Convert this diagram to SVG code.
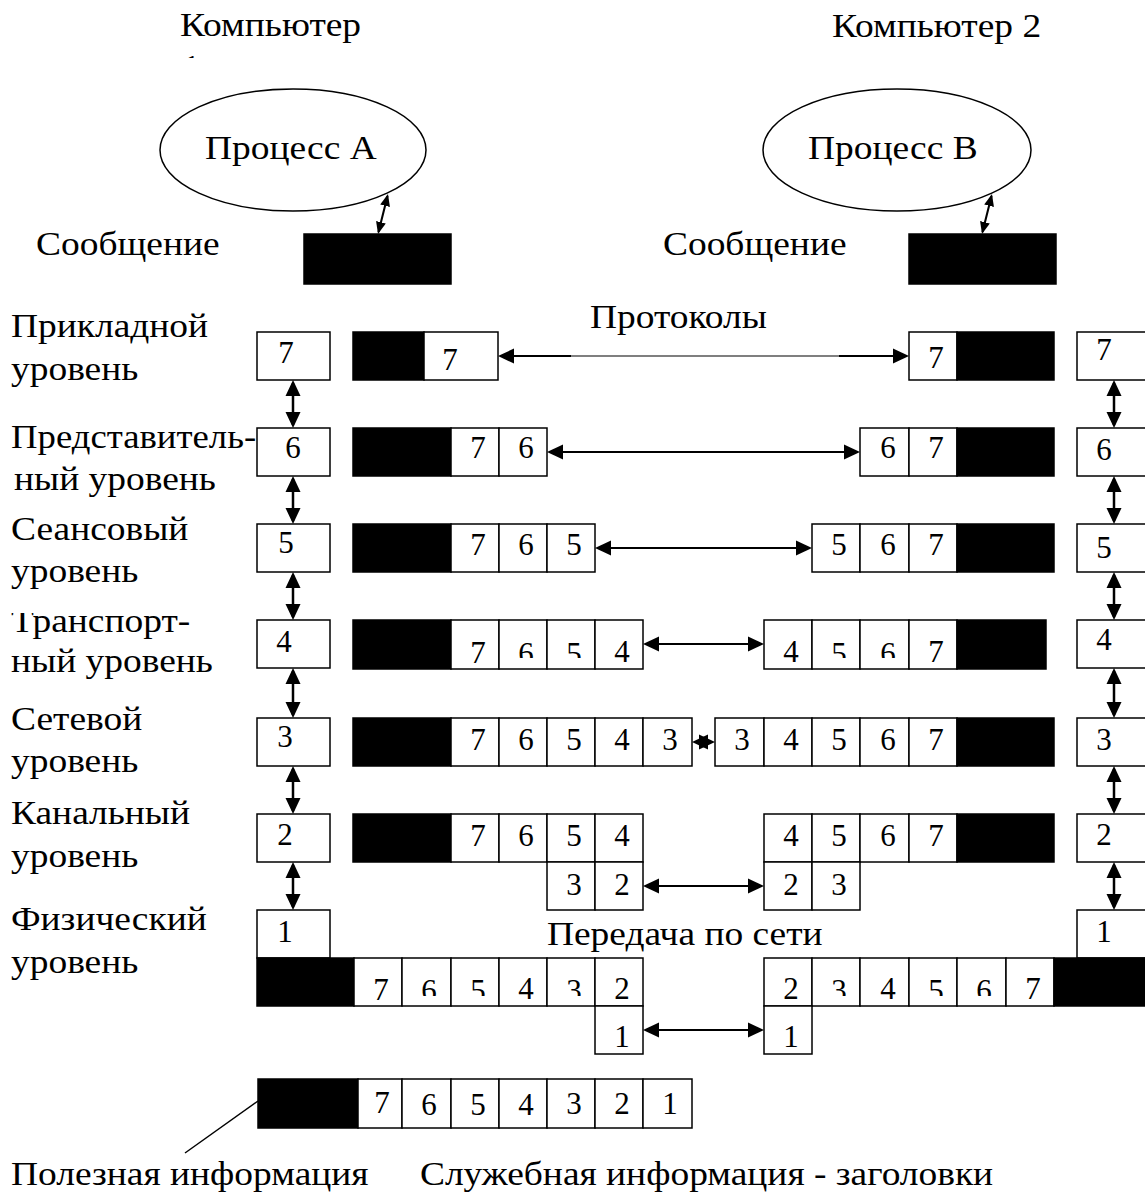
<svg xmlns="http://www.w3.org/2000/svg" width="1145" height="1192" viewBox="0 0 1145 1192">
  <style>
    .bx { fill: #fff; stroke: #000; stroke-width: 1.5; }
    .blk { fill: #000; stroke: #000; stroke-width: 1.5; }
    .ell { fill: #fff; stroke: #000; stroke-width: 1.5; }
    .d { font-family: "Liberation Serif", "Times New Roman", serif; font-size: 31px; text-anchor: middle; fill: #000; }
    .lb { font-family: "Liberation Serif", "Times New Roman", serif; font-size: 33px; fill: #000; }
    .va { stroke: #000; stroke-width: 2.5; fill: none; marker-start: url(#ah); marker-end: url(#ah); }
    .ha { stroke: #000; stroke-width: 2; fill: none; marker-start: url(#ah); marker-end: url(#ah); }
    .sa { stroke: #000; stroke-width: 2; fill: none; marker-start: url(#ahs); marker-end: url(#ahs); }
    .thin { stroke: #000; stroke-width: 1.2; fill: none; }
    .thick { stroke: #000; stroke-width: 2.2; fill: none; }
    .lead { stroke: #000; stroke-width: 1.5; fill: none; }
  </style>
  <defs>
    <marker id="ah" markerUnits="userSpaceOnUse" markerWidth="16" markerHeight="16" viewBox="0 0 16 16" refX="13" refY="8" orient="auto-start-reverse">
      <path d="M0,0.5 L16,8 L0,15.5 Z" fill="#000"/>
    </marker>
    <marker id="ahs" markerUnits="userSpaceOnUse" markerWidth="12" markerHeight="10" viewBox="0 0 12 10" refX="10" refY="5" orient="auto-start-reverse">
      <path d="M0,0 L12,5 L0,10 Z" fill="#000"/>
    </marker>
    <clipPath id="cut4" clipPathUnits="userSpaceOnUse"><rect x="0" y="0" width="1145" height="658"/></clipPath>
    <clipPath id="cut1" clipPathUnits="userSpaceOnUse"><rect x="0" y="0" width="1145" height="996"/></clipPath>
    <clipPath id="cutT" clipPathUnits="userSpaceOnUse"><rect x="0" y="613" width="2000" height="100"/></clipPath>
    <clipPath id="cutTop" clipPathUnits="userSpaceOnUse"><rect x="0" y="0" width="2000" height="58"/></clipPath>
  </defs>

  <!-- headings, process names and free labels (glyphs widened slightly) -->
  <g id="captions" class="lb" transform="scale(1.135 1)">
    <text x="158.6" y="36">Компьютер</text>
    <text x="160.4" y="78" clip-path="url(#cutTop)">1</text>
    <text x="733" y="37">Компьютер 2</text>
    <text x="31.7" y="255">Сообщение</text>
    <text x="584.1" y="255">Сообщение</text>
    <text x="519.8" y="328">Протоколы</text>
    <text x="481.9" y="945">Передача по сети</text>
    <text x="9.7" y="1185">Полезная информация</text>
    <text x="370" y="1185">Служебная информация - заголовки</text>
  </g>

  <!-- layer names -->
  <g id="layer-labels" class="lb" transform="scale(1.135 1)">
    <text x="9.7" y="337">Прикладной</text>
    <text x="9.7" y="380">уровень</text>
    <text x="9.7" y="448" textLength="216" lengthAdjust="spacingAndGlyphs">Представитель-</text>
    <text x="12.3" y="490">ный уровень</text>
    <text x="9.7" y="540">Сеансовый</text>
    <text x="9.7" y="582">уровень</text>
    <text x="9.7" y="632" clip-path="url(#cutT)">Транспорт-</text>
    <text x="9.7" y="672">ный уровень</text>
    <text x="9.7" y="730">Сетевой</text>
    <text x="9.7" y="772">уровень</text>
    <text x="9.7" y="824">Канальный</text>
    <text x="9.7" y="867">уровень</text>
    <text x="9.7" y="930">Физический</text>
    <text x="9.7" y="973">уровень</text>
  </g>

  <!-- processes -->
  <g id="process-a">
    <ellipse class="ell" cx="293" cy="150" rx="133" ry="61"/>
    <text class="lb" transform="scale(1.135 1)" x="180.6" y="159">Процесс A</text>
  </g>
  <g id="process-b">
    <ellipse class="ell" cx="897" cy="150" rx="134" ry="61"/>
    <text class="lb" transform="scale(1.135 1)" x="711.9" y="159">Процесс B</text>
  </g>

  <!-- application messages -->
  <g id="message-a"><rect class="blk" x="304" y="234" width="147" height="50"/></g>
  <g id="message-b"><rect class="blk" x="909" y="234" width="147" height="50"/></g>

  <!-- layer boxes, computer 1 -->
  <g id="stack-a">
    <rect class="bx" x="257" y="332" width="73" height="48"/><text class="d" x="286" y="363">7</text>
    <rect class="bx" x="257" y="428" width="73" height="48"/><text class="d" x="293" y="458">6</text>
    <rect class="bx" x="257" y="524" width="73" height="48"/><text class="d" x="286" y="553">5</text>
    <rect class="bx" x="257" y="620" width="73" height="48"/><text class="d" x="284" y="652">4</text>
    <rect class="bx" x="257" y="718" width="73" height="48"/><text class="d" x="285" y="747">3</text>
    <rect class="bx" x="257" y="814" width="73" height="48"/><text class="d" x="285" y="845">2</text>
    <rect class="bx" x="257" y="910" width="73" height="48"/><text class="d" x="285" y="942">1</text>
  </g>

  <!-- layer boxes, computer 2 -->
  <g id="stack-b">
    <rect class="bx" x="1077" y="332" width="75" height="48"/><text class="d" x="1104" y="360">7</text>
    <rect class="bx" x="1077" y="428" width="75" height="48"/><text class="d" x="1104" y="460">6</text>
    <rect class="bx" x="1077" y="524" width="75" height="48"/><text class="d" x="1104" y="558">5</text>
    <rect class="bx" x="1077" y="620" width="75" height="48"/><text class="d" x="1104" y="650">4</text>
    <rect class="bx" x="1077" y="718" width="75" height="48"/><text class="d" x="1104" y="750">3</text>
    <rect class="bx" x="1077" y="814" width="75" height="48"/><text class="d" x="1104" y="845">2</text>
    <rect class="bx" x="1077" y="910" width="75" height="48"/><text class="d" x="1104" y="942">1</text>
  </g>

  <!-- level 7 units -->
  <g id="pdu7-a">
    <rect class="blk" x="353" y="332" width="71" height="48"/>
    <rect class="bx" x="424" y="332" width="74" height="48"/><text class="d" x="450" y="370">7</text>
  </g>
  <g id="pdu7-b">
    <rect class="bx" x="909" y="332" width="48" height="48"/><text class="d" x="936" y="368">7</text>
    <rect class="blk" x="957" y="332" width="97" height="48"/>
  </g>

  <!-- level 6 units -->
  <g id="pdu6-a">
    <rect class="blk" x="353" y="428" width="98" height="48"/>
    <rect class="bx" x="451" y="428" width="48" height="48"/><text class="d" x="478" y="458">7</text>
    <rect class="bx" x="499" y="428" width="48" height="48"/><text class="d" x="526" y="458">6</text>
  </g>
  <g id="pdu6-b">
    <rect class="bx" x="860" y="428" width="49" height="48"/><text class="d" x="888" y="458">6</text>
    <rect class="bx" x="909" y="428" width="48" height="48"/><text class="d" x="936" y="458">7</text>
    <rect class="blk" x="957" y="428" width="97" height="48"/>
  </g>

  <!-- level 5 units -->
  <g id="pdu5-a">
    <rect class="blk" x="353" y="524" width="98" height="48"/>
    <rect class="bx" x="451" y="524" width="48" height="48"/><text class="d" x="478" y="555">7</text>
    <rect class="bx" x="499" y="524" width="48" height="48"/><text class="d" x="526" y="555">6</text>
    <rect class="bx" x="547" y="524" width="48" height="48"/><text class="d" x="574" y="555">5</text>
  </g>
  <g id="pdu5-b">
    <rect class="bx" x="812" y="524" width="48" height="48"/><text class="d" x="839" y="555">5</text>
    <rect class="bx" x="860" y="524" width="49" height="48"/><text class="d" x="888" y="555">6</text>
    <rect class="bx" x="909" y="524" width="48" height="48"/><text class="d" x="936" y="555">7</text>
    <rect class="blk" x="957" y="524" width="97" height="48"/>
  </g>

  <!-- level 4 units -->
  <g id="pdu4-a">
    <rect class="blk" x="353" y="620" width="98" height="49"/>
    <rect class="bx" x="451" y="620" width="48" height="49"/><text class="d" x="478" y="663">7</text>
    <rect class="bx" x="499" y="620" width="48" height="49"/><text class="d" x="526" y="664" clip-path="url(#cut4)">6</text>
    <rect class="bx" x="547" y="620" width="48" height="49"/><text class="d" x="574" y="664" clip-path="url(#cut4)">5</text>
    <rect class="bx" x="595" y="620" width="48" height="49"/><text class="d" x="622" y="662">4</text>
  </g>
  <g id="pdu4-b">
    <rect class="bx" x="764" y="620" width="48" height="49"/><text class="d" x="791" y="662">4</text>
    <rect class="bx" x="812" y="620" width="48" height="49"/><text class="d" x="839" y="664" clip-path="url(#cut4)">5</text>
    <rect class="bx" x="860" y="620" width="49" height="49"/><text class="d" x="888" y="664" clip-path="url(#cut4)">6</text>
    <rect class="bx" x="909" y="620" width="48" height="49"/><text class="d" x="936" y="662">7</text>
    <rect class="blk" x="957" y="620" width="89" height="49"/>
  </g>

  <!-- level 3 units -->
  <g id="pdu3-a">
    <rect class="blk" x="353" y="718" width="98" height="48"/>
    <rect class="bx" x="451" y="718" width="48" height="48"/><text class="d" x="478" y="750">7</text>
    <rect class="bx" x="499" y="718" width="48" height="48"/><text class="d" x="526" y="750">6</text>
    <rect class="bx" x="547" y="718" width="48" height="48"/><text class="d" x="574" y="750">5</text>
    <rect class="bx" x="595" y="718" width="48" height="48"/><text class="d" x="622" y="750">4</text>
    <rect class="bx" x="643" y="718" width="49" height="48"/><text class="d" x="670" y="750">3</text>
  </g>
  <g id="pdu3-b">
    <rect class="bx" x="715" y="718" width="49" height="48"/><text class="d" x="742" y="750">3</text>
    <rect class="bx" x="764" y="718" width="48" height="48"/><text class="d" x="791" y="750">4</text>
    <rect class="bx" x="812" y="718" width="48" height="48"/><text class="d" x="839" y="750">5</text>
    <rect class="bx" x="860" y="718" width="49" height="48"/><text class="d" x="888" y="750">6</text>
    <rect class="bx" x="909" y="718" width="48" height="48"/><text class="d" x="936" y="750">7</text>
    <rect class="blk" x="957" y="718" width="97" height="48"/>
  </g>

  <!-- level 2 units (frame trailer on a second line) -->
  <g id="pdu2-a">
    <rect class="blk" x="353" y="814" width="98" height="48"/>
    <rect class="bx" x="451" y="814" width="48" height="48"/><text class="d" x="478" y="846">7</text>
    <rect class="bx" x="499" y="814" width="48" height="48"/><text class="d" x="526" y="846">6</text>
    <rect class="bx" x="547" y="814" width="48" height="48"/><text class="d" x="574" y="846">5</text>
    <rect class="bx" x="595" y="814" width="48" height="48"/><text class="d" x="622" y="846">4</text>
    <rect class="bx" x="547" y="862" width="48" height="48"/><text class="d" x="574" y="895">3</text>
    <rect class="bx" x="595" y="862" width="48" height="48"/><text class="d" x="622" y="895">2</text>
  </g>
  <g id="pdu2-b">
    <rect class="bx" x="764" y="814" width="48" height="48"/><text class="d" x="791" y="846">4</text>
    <rect class="bx" x="812" y="814" width="48" height="48"/><text class="d" x="839" y="846">5</text>
    <rect class="bx" x="860" y="814" width="49" height="48"/><text class="d" x="888" y="846">6</text>
    <rect class="bx" x="909" y="814" width="48" height="48"/><text class="d" x="936" y="846">7</text>
    <rect class="blk" x="957" y="814" width="97" height="48"/>
    <rect class="bx" x="764" y="862" width="48" height="48"/><text class="d" x="791" y="895">2</text>
    <rect class="bx" x="812" y="862" width="48" height="48"/><text class="d" x="839" y="895">3</text>
  </g>

  <!-- level 1 bit streams -->
  <g id="pdu1-a">
    <rect class="blk" x="257" y="958" width="97" height="48"/>
    <rect class="bx" x="354" y="958" width="48" height="48"/><text class="d" x="381" y="1000">7</text>
    <rect class="bx" x="402" y="958" width="49" height="48"/><text class="d" x="429" y="1001" clip-path="url(#cut1)">6</text>
    <rect class="bx" x="451" y="958" width="48" height="48"/><text class="d" x="478" y="1001" clip-path="url(#cut1)">5</text>
    <rect class="bx" x="499" y="958" width="48" height="48"/><text class="d" x="526" y="999">4</text>
    <rect class="bx" x="547" y="958" width="48" height="48"/><text class="d" x="574" y="1001" clip-path="url(#cut1)">3</text>
    <rect class="bx" x="595" y="958" width="48" height="48"/><text class="d" x="622" y="999">2</text>
    <rect class="bx" x="595" y="1006" width="48" height="48"/><text class="d" x="622" y="1047">1</text>
  </g>
  <g id="pdu1-b">
    <rect class="bx" x="764" y="958" width="48" height="48"/><text class="d" x="791" y="999">2</text>
    <rect class="bx" x="812" y="958" width="48" height="48"/><text class="d" x="839" y="1001" clip-path="url(#cut1)">3</text>
    <rect class="bx" x="860" y="958" width="49" height="48"/><text class="d" x="888" y="999">4</text>
    <rect class="bx" x="909" y="958" width="48" height="48"/><text class="d" x="936" y="1001" clip-path="url(#cut1)">5</text>
    <rect class="bx" x="957" y="958" width="49" height="48"/><text class="d" x="984" y="1001" clip-path="url(#cut1)">6</text>
    <rect class="bx" x="1006" y="958" width="48" height="48"/><text class="d" x="1033" y="999">7</text>
    <rect class="blk" x="1054" y="958" width="96" height="48"/>
    <rect class="bx" x="764" y="1006" width="48" height="48"/><text class="d" x="791" y="1047">1</text>
  </g>

  <!-- legend frame: payload plus all headers -->
  <g id="legend-frame">
    <rect class="blk" x="258" y="1079" width="100" height="49"/>
    <rect class="bx" x="358" y="1079" width="44" height="49"/><text class="d" x="382" y="1113">7</text>
    <rect class="bx" x="402" y="1079" width="49" height="49"/><text class="d" x="429" y="1115">6</text>
    <rect class="bx" x="451" y="1079" width="48" height="49"/><text class="d" x="478" y="1115">5</text>
    <rect class="bx" x="499" y="1079" width="48" height="49"/><text class="d" x="526" y="1115">4</text>
    <rect class="bx" x="547" y="1079" width="48" height="49"/><text class="d" x="574" y="1114">3</text>
    <rect class="bx" x="595" y="1079" width="48" height="49"/><text class="d" x="622" y="1114">2</text>
    <rect class="bx" x="643" y="1079" width="49" height="49"/><text class="d" x="670" y="1114">1</text>
  </g>

  <!-- connectors -->
  <g id="connectors">
    <!-- process to message -->
    <line class="sa" x1="387.5" y1="196" x2="378.5" y2="232"/>
    <line class="sa" x1="991.5" y1="196" x2="982.5" y2="232"/>

    <!-- between layers, computer 1 -->
    <line class="va" x1="293" y1="383" x2="293" y2="425"/>
    <line class="va" x1="293" y1="479" x2="293" y2="521"/>
    <line class="va" x1="293" y1="575" x2="293" y2="617"/>
    <line class="va" x1="293" y1="671" x2="293" y2="715"/>
    <line class="va" x1="293" y1="769" x2="293" y2="811"/>
    <line class="va" x1="293" y1="865" x2="293" y2="907"/>

    <!-- between layers, computer 2 -->
    <line class="va" x1="1114" y1="383" x2="1114" y2="425"/>
    <line class="va" x1="1114" y1="479" x2="1114" y2="521"/>
    <line class="va" x1="1114" y1="575" x2="1114" y2="617"/>
    <line class="va" x1="1114" y1="671" x2="1114" y2="715"/>
    <line class="va" x1="1114" y1="769" x2="1114" y2="811"/>
    <line class="va" x1="1114" y1="865" x2="1114" y2="907"/>

    <!-- peer protocols -->
    <line class="thin" x1="501" y1="356" x2="906" y2="356" marker-start="url(#ah)" marker-end="url(#ah)"/>
    <line class="thick" x1="512" y1="356" x2="571" y2="356"/>
    <line class="thick" x1="839" y1="356" x2="895" y2="356"/>
    <line class="ha" x1="550" y1="452" x2="857" y2="452"/>
    <line class="ha" x1="598" y1="548" x2="809" y2="548"/>
    <line class="ha" x1="646" y1="644" x2="761" y2="644"/>
    <polygon points="692,742 708,734.5 708,749.5" fill="#000"/>
    <polygon points="715,742 699,734.5 699,749.5" fill="#000"/>
    <line class="ha" x1="646" y1="886" x2="761" y2="886"/>
    <line class="ha" x1="646" y1="1030" x2="761" y2="1030"/>

    <!-- legend pointer -->
    <line class="lead" x1="258" y1="1101" x2="185" y2="1153"/>
  </g>
</svg>
